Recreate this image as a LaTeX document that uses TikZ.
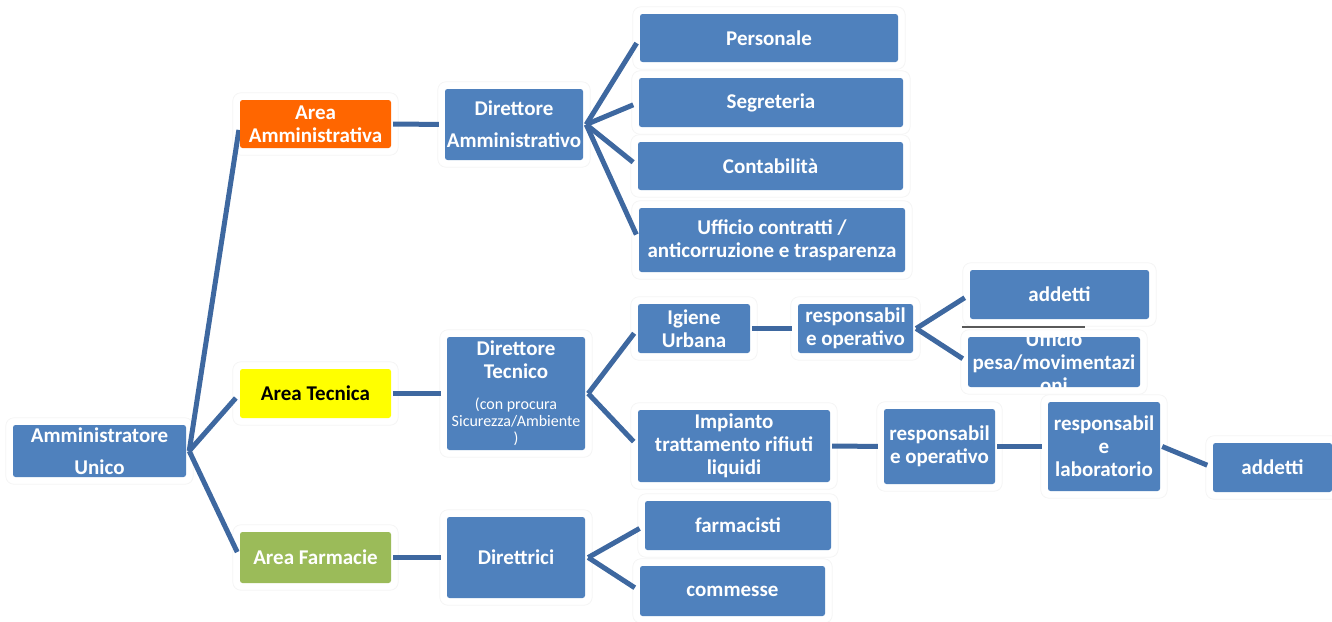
\documentclass[tikz,border=0pt]{standalone}
\usepackage{fontspec}
\setmainfont{Carlito}
\usetikzlibrary{calc}
\pgfdeclarelayer{bg}
\pgfdeclarelayer{mid}
\pgfsetlayers{bg,mid,main}
\definecolor{boxblue}{RGB}{79,129,189}
\definecolor{linec}{RGB}{62,104,160}
\definecolor{aorange}{RGB}{255,102,0}
\definecolor{ayellow}{RGB}{255,255,0}
\definecolor{agreen}{RGB}{155,187,89}
\newcommand\smtxt[1]{{\fontsize{16}{17}\selectfont\mdseries #1}}
\begin{document}
\begin{tikzpicture}[x=1pt,y=-1pt,
  bx/.style={fill=boxblue, rounded corners=2.5pt, text=white, align=center, inner sep=0pt,
    font=\fontsize{21}{23}\selectfont\bfseries},
  wide/.style={font=\fontsize{21}{32}\selectfont\bfseries},
  conn/.style={draw=linec, line width=5pt, shorten >=6pt},
  halo/.style={draw=black!4, fill=white, rounded corners=8pt, line width=0.8pt},
  shadowline/.style={draw=black!65, line width=1.5pt},
  cliptext/.style={text=white, align=center, inner sep=0pt, font=\fontsize{21}{23}\selectfont\bfseries}
]
\useasboundingbox (0,0) rectangle (1332,621);

% level 0
\node[bx, wide, minimum width=173pt, minimum height=52pt] (au) at (99.5,451) {Amministratore\\Unico};
% level 1
\node[bx, fill=aorange, minimum width=151pt, minimum height=48pt] (aam) at (315.5,124) {Area\\Amministrativa};
\node[bx, fill=ayellow, text=black, minimum width=151pt, minimum height=49pt] (atc) at (315.5,393.5) {Area Tecnica};
\node[bx, fill=agreen, minimum width=151pt, minimum height=51pt] (afa) at (315.5,557.5) {Area Farmacie};
% level 2
\node[bx, wide, minimum width=138pt, minimum height=71pt] (dam) at (514,124.5) {Direttore\\Amministrativo};
\node[bx, minimum width=138pt, minimum height=113pt] (dtc) at (516,393.5)
  {Direttore\\Tecnico\\[8pt]\smtxt{(con procura}\\[-6pt]\smtxt{Sicurezza/Ambiente}\\[-6pt]\smtxt{)}};
\node[bx, minimum width=138pt, minimum height=81pt] (dri) at (516,557.5) {Direttrici};
% level 3
\node[bx, minimum width=258pt, minimum height=48pt] (per) at (769,38) {Personale};
\node[bx, minimum width=264pt, minimum height=49pt] (seg) at (771,102.5) {Segreteria};
\node[bx, minimum width=265pt, minimum height=48pt] (con) at (770.5,166) {Contabilità};
\node[bx, minimum width=266pt, minimum height=64pt] (uff) at (772,240) {Ufficio contratti /\\anticorruzione e trasparenza};
\node[bx, minimum width=112pt, minimum height=49pt] (igu) at (694,328.5) {Igiene\\Urbana};
\node[bx, minimum width=192pt, minimum height=72pt] (imp) at (734,446) {Impianto\\trattamento rifiuti\\liquidi};
\node[bx, minimum width=186pt, minimum height=49pt] (far) at (738,525.5) {farmacisti};
\node[bx, minimum width=185pt, minimum height=50pt] (com) at (732.5,591) {commesse};
% level 4
\node[bx, minimum width=115pt, minimum height=49pt] (ro1) at (855.5,328.5) {responsabil\\e operativo};
\node[bx, minimum width=111pt, minimum height=75pt] (ro2) at (939.5,446.5) {responsabil\\e operativo};
% level 5
\node[bx, minimum width=172pt, minimum height=50pt,
  path picture={\node[cliptext] (pest) at (path picture bounding box.center) {Ufficio\\pesa/movimentazi\\oni};}]
  (pes) at (1054,362) {};
\node[bx, minimum width=179pt, minimum height=49pt] (adt) at (1059.5,294.5) {addetti};
\node[bx, minimum width=112pt, minimum height=89pt] (rla) at (1104,446.5) {responsabil\\e\\laboratorio};
\node[bx, minimum width=119pt, minimum height=49pt] (adr) at (1272.5,467.5) {addetti};

% halos
\begin{pgfonlayer}{bg}
\foreach \n in {au,aam,atc,afa,dam,dtc,dri,per,seg,con,uff,igu,imp,far,com,ro1,ro2,pes,adt,rla,adr}
  \draw[halo] ($(\n.south west)+(-7,7)$) rectangle ($(\n.north east)+(7,-7)$);
\end{pgfonlayer}

% connectors
\begin{pgfonlayer}{mid}
\draw[conn] ($(au.east)+(3,0)$) -- (aam.west);
\draw[conn] ($(au.east)+(3,0)$) -- (atc.west);
\draw[conn] ($(au.east)+(3,0)$) -- (afa.west);
\draw[conn] ($(aam.east)+(2,0)$) -- (dam.west);
\draw[conn] ($(atc.east)+(2,0)$) -- (dtc.west);
\draw[conn] ($(afa.east)+(2,0)$) -- (dri.west);
\draw[conn] ($(dam.east)+(3,0)$) -- (per.west);
\draw[conn] ($(dam.east)+(3,0)$) -- (seg.west);
\draw[conn] ($(dam.east)+(3,0)$) -- (con.west);
\draw[conn] ($(dam.east)+(3,0)$) -- (uff.west);
\draw[conn] ($(dtc.east)+(3,0)$) -- (igu.west);
\draw[conn] ($(dtc.east)+(3,0)$) -- (imp.west);
\draw[conn] ($(dri.east)+(3,0)$) -- (far.west);
\draw[conn] ($(dri.east)+(3,0)$) -- (com.west);
\draw[conn] ($(igu.east)+(2,0)$) -- (ro1.west);
\draw[conn] ($(ro1.east)+(3,0)$) -- (adt.west);
\draw[conn] ($(ro1.east)+(3,0)$) -- (pes.west);
\draw[conn] ($(imp.east)+(2,0)$) -- (ro2.west);
\draw[conn] ($(ro2.east)+(2,0)$) -- (rla.west);
\draw[conn] ($(rla.east)+(2,0)$) -- (adr.west);
\draw[shadowline] ($(adt.south west)+(-8,8)$) -- ($(adt.south west)+(115,8)$);
\end{pgfonlayer}
\end{tikzpicture}
\end{document}
